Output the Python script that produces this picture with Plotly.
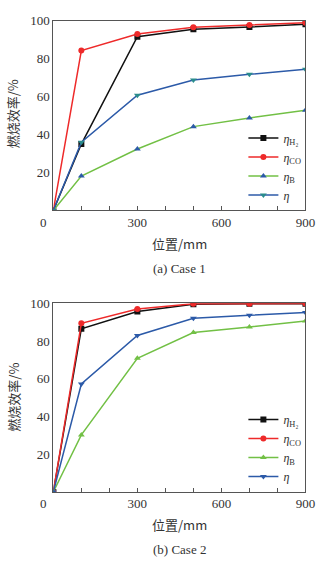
import plotly.graph_objects as go

W, H = 330, 563

positions = [0, 100, 300, 500, 700, 900]

case1_h2 = [0, 35.0, 91.6, 95.5, 96.7, 98.2]
case1_co = [0, 84.3, 93.0, 96.6, 97.8, 99.0]
case1_b = [0, 18.1, 32.4, 44.2, 48.8, 52.9]
case1_eta = [0, 36.0, 60.8, 68.8, 71.8, 74.4]

case2_h2 = [0, 86.5, 95.6, 99.5, 99.7, 99.8]
case2_co = [0, 89.4, 97.0, 99.7, 99.8, 99.9]
case2_b = [0, 30.2, 70.8, 84.5, 87.4, 90.6]
case2_eta = [0, 57.2, 82.9, 92.0, 93.6, 95.1]

x_ticks = [300, 600, 900]
y_ticks = [20, 40, 60, 80, 100]

names = ["<i>η</i><sub>H₂</sub>", "<i>η</i><sub>CO</sub>", "<i>η</i><sub>B</sub>", "<i>η</i>"]

BLACK = "#111111"
RED = "#ee2a2a"
GREEN = "#72c045"
BLUE = "#2c5aa8"
TEAL = "#2a8c8c"

SERIF = "Liberation Serif"
CJK = "Noto Sans CJK SC"
TXT = "#333333"

fig = go.Figure()

specs1 = [
    (case1_h2, BLACK, BLACK, "square"),
    (case1_co, RED, RED, "circle"),
    (case1_b, GREEN, BLUE, "triangle-up"),
    (case1_eta, BLUE, TEAL, "triangle-down"),
]
specs2 = [
    (case2_h2, BLACK, BLACK, "square"),
    (case2_co, RED, RED, "circle"),
    (case2_b, GREEN, GREEN, "triangle-up"),
    (case2_eta, BLUE, BLUE, "triangle-down"),
]

for (vals, lc, mc, sym), nm in zip(specs1, names):
    fig.add_trace(go.Scatter(
        x=positions, y=vals, mode="lines+markers", name=nm,
        line=dict(color=lc, width=1.5),
        marker=dict(color=mc, symbol=sym, size=6),
        xaxis="x", yaxis="y", legend="legend",
    ))
for (vals, lc, mc, sym), nm in zip(specs2, names):
    fig.add_trace(go.Scatter(
        x=positions, y=vals, mode="lines+markers", name=nm,
        line=dict(color=lc, width=1.5),
        marker=dict(color=mc, symbol=sym, size=6),
        xaxis="x2", yaxis="y2", legend="legend2",
    ))

def px_x(p):
    return p / W

def px_y(p):
    return 1 - p / H

x_dom = [px_x(55), px_x(315)]
dom1 = [px_y(206), px_y(14)]
dom2 = [px_y(491), px_y(300)]

xaxis_common = dict(
    range=[0, 900], tickvals=x_ticks, ticks="", showgrid=False, zeroline=False,
    showline=True, linecolor="#555555", linewidth=1, mirror=True,
    tickfont=dict(family=SERIF, size=13, color=TXT),
    minor=dict(tickvals=[100, 200, 300, 400, 500, 600, 700, 800], ticks="inside",
               ticklen=4, tickcolor="#555555"),
    domain=x_dom, fixedrange=True,
)
yaxis_common = dict(
    range=[0, 100], tickvals=y_ticks, ticks="", showgrid=False, zeroline=False,
    showline=True, linecolor="#555555", linewidth=1, mirror=True,
    tickfont=dict(family=SERIF, size=13, color=TXT),
    fixedrange=True,
)

legend_common = dict(
    bgcolor="rgba(0,0,0,0)", borderwidth=0,
    font=dict(family=SERIF, size=12, color=TXT),
    xanchor="left", yanchor="top", itemwidth=30, tracegroupgap=0,
)

fig.update_layout(
    width=W, height=H,
    margin=dict(l=0, r=0, t=0, b=0),
    paper_bgcolor="white", plot_bgcolor="white",
    xaxis=dict(**xaxis_common, anchor="y"),
    yaxis=dict(**yaxis_common, domain=dom1, anchor="x"),
    xaxis2=dict(**xaxis_common, anchor="y2"),
    yaxis2=dict(**yaxis_common, domain=dom2, anchor="x2"),
    legend=dict(**legend_common, x=px_x(251), y=px_y(118)),
    legend2=dict(**legend_common, x=px_x(251), y=px_y(403)),
    showlegend=True,
)

annots = [
    dict(text="0", x=px_x(45), y=px_y(218), font=dict(family=SERIF, size=13, color=TXT)),
    dict(text="0", x=px_x(45), y=px_y(503), font=dict(family=SERIF, size=13, color=TXT)),
    dict(text="位置/mm", x=px_x(185), y=px_y(239), font=dict(family=CJK, size=13, color=TXT)),
    dict(text="位置/mm", x=px_x(185), y=px_y(524), font=dict(family=CJK, size=13, color=TXT)),
    dict(text="(a) Case 1", x=px_x(185), y=px_y(265), font=dict(family=SERIF, size=13, color=TXT)),
    dict(text="(b) Case 2", x=px_x(185), y=px_y(549), font=dict(family=SERIF, size=13, color=TXT)),
    dict(text="燃烧效率/%", x=px_x(13), y=px_y(108), textangle=-90, font=dict(family=CJK, size=13, color=TXT)),
    dict(text="燃烧效率/%", x=px_x(13), y=px_y(395), textangle=-90, font=dict(family=CJK, size=13, color=TXT)),
]
for a in annots:
    fig.add_annotation(xref="paper", yref="paper", showarrow=False,
                       xanchor="center", yanchor="middle", **a)

fig.write_html("out.html")
